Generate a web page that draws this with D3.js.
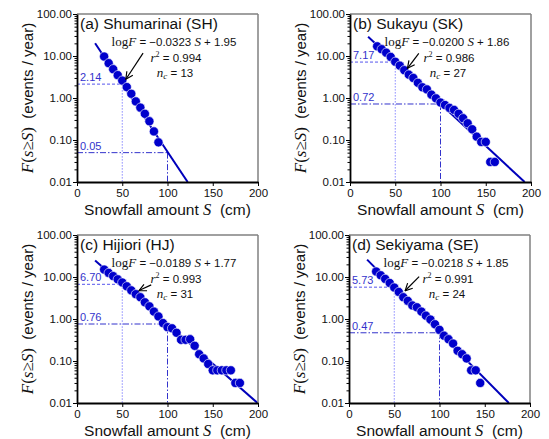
<!DOCTYPE html>
<html>
<head>
<meta charset="utf-8">
<script src="https://cdn.jsdelivr.net/npm/d3@7"></script>
<style>
  body { margin: 0; background: #fff; }
  svg { display: block; }
</style>
</head>
<body>
<svg id="chart" width="549" height="439"></svg>
<script>
// --- data ---
const panelTitles = ["(a) Shumarinai (SH)", "(b) Sukayu (SK)", "(c) Hijiori (HJ)", "(d) Sekiyama (SE)"];

const snowA = [30, 35, 40, 45, 50, 55, 60, 65, 70, 75, 80, 85, 90];
const freqA = [9.7, 6.75, 4.85, 3.5, 2.6, 1.82, 1.26, 0.83, 0.59, 0.42, 0.28, 0.16, 0.088];

const snowB = [30, 35, 40, 45, 50, 55, 60, 65, 70, 75, 80, 85, 90, 95, 100, 105, 110, 115, 120, 125, 130, 135, 140, 145, 150, 155, 160];
const freqB = [17.0, 14.5, 12.0, 9.5, 7.3, 5.9, 4.6, 3.6, 3.0, 2.3, 1.8, 1.6, 1.2, 0.98, 0.78, 0.68, 0.58, 0.52, 0.42, 0.33, 0.25, 0.18, 0.12, 0.09, 0.09, 0.03, 0.03];

const snowC = [30, 35, 40, 45, 50, 55, 60, 65, 70, 75, 80, 85, 90, 95, 100, 105, 110, 115, 120, 125, 130, 135, 140, 145, 150, 155, 160, 165, 170, 175, 180];
const freqC = [15.0, 12.5, 10.5, 8.8, 7.4, 6.0, 4.8, 3.9, 3.3, 2.5, 2.0, 1.5, 1.15, 0.8, 0.64, 0.6, 0.47, 0.32, 0.32, 0.33, 0.23, 0.145, 0.115, 0.085, 0.06, 0.06, 0.06, 0.06, 0.06, 0.03, 0.03];

const snowD = [30, 35, 40, 45, 50, 55, 60, 65, 70, 75, 80, 85, 90, 95, 100, 105, 110, 115, 120, 125, 130, 135, 140, 145];
const freqD = [13.5, 11.0, 9.0, 7.2, 5.6, 4.4, 3.3, 2.7, 2.1, 1.9, 1.5, 1.2, 0.97, 0.75, 0.55, 0.4, 0.33, 0.26, 0.175, 0.145, 0.115, 0.06, 0.06, 0.03];

const slopes = [-0.0323, -0.0200, -0.0189, -0.0218];
const intercepts = [1.95, 1.86, 1.77, 1.85];
const slopeLabels = ["0.0323", "0.0200", "0.0189", "0.0218"];
const interceptLabels = ["1.95", "1.86", "1.77", "1.85"];
const r2Labels = ["0.994", "0.986", "0.993", "0.991"];
const ncLabels = ["13", "27", "31", "24"];

const refS = [50, 100];
const refAt50 = [2.14, 7.17, 6.70, 5.73];
const refAt100 = [0.05, 0.72, 0.76, 0.47];

// arrow (from, to) in data units [S, F]
const arrowFrom = [[73, 11.7], [76, 11.6], [82, 6.5], [77.5, 10.2]];
const arrowTo = [[54, 2.8], [63.5, 5.1], [68.5, 4.75], [62, 4.7]];

const xTicks = [0, 50, 100, 150, 200];
const yTicks = [0.01, 0.1, 1, 10, 100];
const yTickLabels = ["0.01", "0.10", "1.00", "10.00", "100.00"];

const series = [
  { s: snowA, f: freqA },
  { s: snowB, f: freqB },
  { s: snowC, f: freqC },
  { s: snowD, f: freqD }
];

// --- layout ---
const panelPos = [
  { left: 77, top: 14 },
  { left: 350, top: 14 },
  { left: 77, top: 235 },
  { left: 349, top: 235 }
];
const W = 181, H = 168;

const sans = "'Liberation Sans', Arial, sans-serif";
const serif = "'Liberation Serif', 'Times New Roman', serif";
const markBlue = "#0000cc";
const lineBlue = "#0000bb";

const svg = d3.select('#chart');

const defs = svg.append('defs');
defs.append('marker')
  .attr('id', 'arrowhead')
  .attr('viewBox', '0 0 10 10')
  .attr('refX', 9).attr('refY', 5)
  .attr('markerWidth', 9).attr('markerHeight', 9)
  .attr('markerUnits', 'userSpaceOnUse')
  .attr('orient', 'auto')
  .append('path')
  .attr('d', 'M1,1 L9,5 L1,9')
  .attr('fill', 'none')
  .attr('stroke', '#000')
  .attr('stroke-width', 1.3);

const x = d3.scaleLinear().domain([0, 200]).range([0, W]);
const y = d3.scaleLog().domain([0.01, 100]).range([H, 0]);

const minorTicks = y.ticks().filter(v => !yTicks.some(t => Math.abs(t - v) < 1e-9));

series.forEach((d, i) => {
  const p = panelPos[i];
  const g = svg.append('g').attr('transform', `translate(${p.left},${p.top})`);

  defs.append('clipPath').attr('id', 'clip' + i)
    .append('rect').attr('width', W).attr('height', H);
  const plot = g.append('g').attr('clip-path', `url(#clip${i})`);

  // reference lines at S = 50 and S = 100
  const refs = [refAt50[i], refAt100[i]];
  const hStyle = [
    { color: '#5555ee', dash: '3,2' },
    { color: '#3333cc', dash: '6,2,1.5,2' }
  ];
  const vStyle = [
    { color: '#8888ff', dash: '1.5,1.5' },
    { color: '#3333cc', dash: '6,2,1.5,2' }
  ];
  refs.forEach((v, k) => {
    plot.append('line')
      .attr('x1', x(0)).attr('x2', x(refS[k]))
      .attr('y1', y(v)).attr('y2', y(v))
      .attr('stroke', hStyle[k].color).attr('stroke-width', 1)
      .attr('stroke-dasharray', hStyle[k].dash);
    plot.append('line')
      .attr('x1', x(refS[k])).attr('x2', x(refS[k]))
      .attr('y1', y(v)).attr('y2', y(0.01))
      .attr('stroke', vStyle[k].color).attr('stroke-width', 1)
      .attr('stroke-dasharray', vStyle[k].dash);
    g.append('text')
      .attr('x', 3).attr('y', y(v) - 3)
      .attr('font-family', sans).attr('font-size', 11)
      .attr('fill', '#3333cc')
      .text(v.toFixed(2));
  });

  // regression line
  const sEnd = Math.min(200, (intercepts[i] + 2) / -slopes[i]);
  const fit = [20, sEnd].map(s => [s, Math.pow(10, slopes[i] * s + intercepts[i])]);
  plot.append('path')
    .datum(fit)
    .attr('d', d3.line().x(q => x(q[0])).y(q => y(q[1])))
    .attr('fill', 'none')
    .attr('stroke', lineBlue)
    .attr('stroke-width', 2);

  // points
  plot.selectAll('circle.pt')
    .data(d.s.map((s, j) => ({ s, f: d.f[j] })))
    .enter()
    .append('circle')
    .attr('class', 'pt')
    .attr('cx', q => x(q.s))
    .attr('cy', q => y(q.f))
    .attr('r', 4.6)
    .attr('fill', markBlue)
    .attr('stroke', '#fff')
    .attr('stroke-width', 0.6);

  // frame: top/right grey
  g.append('line').attr('x1', 0).attr('x2', W).attr('y1', 0).attr('y2', 0)
    .attr('stroke', '#808080').attr('stroke-width', 1.5);
  g.append('line').attr('x1', W).attr('x2', W).attr('y1', 0).attr('y2', H)
    .attr('stroke', '#808080').attr('stroke-width', 1.5);

  // axes
  const yMinor = g.append('g')
    .call(d3.axisLeft(y).tickValues(minorTicks).tickSize(2.5).tickFormat(''));
  yMinor.select('.domain').remove();

  const yAxis = g.append('g')
    .call(d3.axisLeft(y).tickValues(yTicks).tickSize(4).tickSizeOuter(0)
      .tickFormat((v, j) => yTickLabels[j]));
  const xAxis = g.append('g')
    .attr('transform', `translate(0,${H})`)
    .call(d3.axisBottom(x).tickValues(xTicks).tickSize(4).tickSizeOuter(0));

  [yAxis, xAxis, yMinor].forEach(a => {
    a.selectAll('line').attr('stroke', '#000').attr('stroke-width', 1);
    a.selectAll('text').attr('font-family', sans).attr('font-size', 11.5).attr('fill', '#111');
  });
  yAxis.select('.domain').attr('stroke', '#000').attr('stroke-width', 1.8);
  xAxis.select('.domain').attr('stroke', '#000').attr('stroke-width', 1.8);
  yAxis.selectAll('text').attr('x', -5);
  xAxis.selectAll('text').attr('y', 7);

  // panel title
  g.append('text')
    .attr('x', 3).attr('y', 14.5)
    .attr('font-family', sans).attr('font-size', 15.5).attr('fill', '#111')
    .text(panelTitles[i]);

  // regression text
  const eq = g.append('text')
    .attr('x', 97).attr('y', 32)
    .attr('text-anchor', 'middle')
    .attr('font-family', sans).attr('font-size', 11.5).attr('fill', '#111');
  eq.append('tspan').attr('font-family', serif).attr('font-size', 13).text('log');
  eq.append('tspan').attr('font-family', serif).attr('font-size', 13).attr('font-style', 'italic').text('F');
  eq.append('tspan').text(' = \u2212' + slopeLabels[i] + ' ');
  eq.append('tspan').attr('font-family', serif).attr('font-size', 13).attr('font-style', 'italic').text('S');
  eq.append('tspan').text(' + ' + interceptLabels[i]);

  const r2 = g.append('text')
    .attr('x', 99).attr('y', 47.5)
    .attr('text-anchor', 'middle')
    .attr('font-family', sans).attr('font-size', 11.5).attr('fill', '#111');
  r2.append('tspan').attr('font-family', serif).attr('font-size', 13).attr('font-style', 'italic').text('r');
  r2.append('tspan').attr('font-family', serif).attr('font-size', 8).attr('dy', -5).text('2');
  r2.append('tspan').attr('dy', 5).text(' = ' + r2Labels[i]);

  const nc = g.append('text')
    .attr('x', 98).attr('y', 62.5)
    .attr('text-anchor', 'middle')
    .attr('font-family', sans).attr('font-size', 11.5).attr('fill', '#111');
  nc.append('tspan').attr('font-family', serif).attr('font-size', 13).attr('font-style', 'italic').text('n');
  nc.append('tspan').attr('font-family', serif).attr('font-size', 9).attr('font-style', 'italic').attr('dy', 2.5).text('c');
  nc.append('tspan').attr('dy', -2.5).text(' = ' + ncLabels[i]);

  // arrow
  g.append('line')
    .attr('x1', x(arrowFrom[i][0])).attr('y1', y(arrowFrom[i][1]))
    .attr('x2', x(arrowTo[i][0])).attr('y2', y(arrowTo[i][1]))
    .attr('stroke', '#000').attr('stroke-width', 1.2)
    .attr('marker-end', 'url(#arrowhead)');

  // axis titles
  const xt = g.append('text')
    .attr('x', W / 2).attr('y', H + 33)
    .attr('text-anchor', 'middle')
    .attr('font-family', sans).attr('font-size', 15.5).attr('fill', '#111');
  xt.append('tspan').text('Snowfall amount ');
  xt.append('tspan').attr('font-family', serif).attr('font-style', 'italic').attr('font-size', 16.5).text('S');
  xt.append('tspan').text('\u00a0 (cm)');

  const yt = g.append('text')
    .attr('transform', `translate(-44,${H / 2}) rotate(-90)`)
    .attr('text-anchor', 'middle')
    .attr('font-family', sans).attr('font-size', 15).attr('fill', '#111');
  yt.append('tspan').attr('font-family', serif).attr('font-style', 'italic').attr('font-size', 17).text('F');
  yt.append('tspan').attr('font-family', serif).attr('font-size', 17).text('(');
  yt.append('tspan').attr('font-family', serif).attr('font-style', 'italic').attr('font-size', 17).text('s\u2265S');
  yt.append('tspan').attr('font-family', serif).attr('font-size', 17).text(')');
  yt.append('tspan').text('\u00a0 (events / year)');
});
</script>
</body>
</html>
